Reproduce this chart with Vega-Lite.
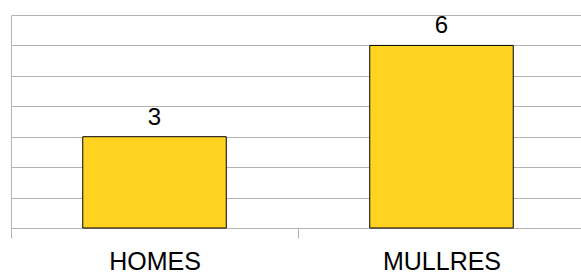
{
  "$schema": "https://vega.github.io/schema/vega-lite/v6.json",
  "autosize": "none",
  "padding": {"left": 11, "top": 15, "right": 0, "bottom": 47},
  "width": 574,
  "height": 213,
  "background": "white",
  "config": {"view": {"stroke": null}, "font": "Liberation Sans"},
  "data": {"values": [
    {"category": "HOMES", "value": 3},
    {"category": "MULLRES", "value": 6}
  ]},
  "encoding": {
    "x": {"field": "category", "type": "nominal", "sort": null,
      "scale": {"paddingInner": 0, "paddingOuter": 0},
      "axis": {"title": null, "labelAngle": 0, "tickBand": "extent", "tickSize": 10,
        "tickColor": "#b3b3b3", "domainColor": "#b3b3b3", "labelFontSize": 25,
        "labelColor": "#000000", "labelPadding": 11, "labelFont": "Liberation Sans", "grid": false}},
    "y": {"field": "value", "type": "quantitative",
      "scale": {"domain": [0, 7], "nice": false},
      "axis": {"title": null, "labels": false, "ticks": false, "values": [0,1,2,3,4,5,6,7],
        "grid": true, "gridColor": "#b3b3b3", "domainColor": "#b3b3b3"}}
  },
  "layer": [
    {"mark": {"type": "bar", "color": "#FFD320", "stroke": "#000000", "strokeWidth": 1, "width": {"band": 0.5}}},
    {"mark": {"type": "text", "dy": -12, "baseline": "alphabetic", "fontSize": 24, "font": "Liberation Sans", "color": "#000000"},
     "encoding": {"text": {"field": "value", "type": "quantitative"}}}
  ]
}
